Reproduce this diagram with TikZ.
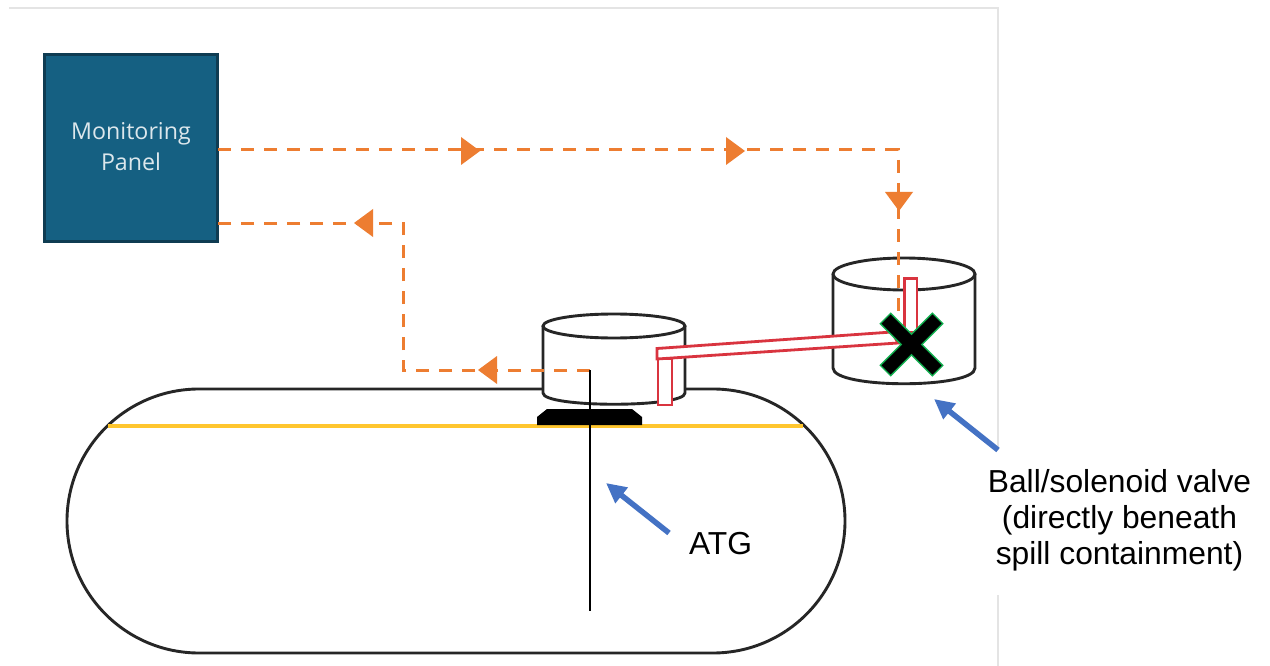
\documentclass[tikz,border=0pt]{standalone}
\usepackage{fontspec}
\setmainfont{Liberation Sans}
\newfontfamily\panelfont{Open Sans}
\usetikzlibrary{arrows.meta}
\definecolor{flowcol}{HTML}{ED7D31}
\definecolor{panelcol}{HTML}{156082}
\definecolor{paneledge}{HTML}{0F3C52}
\definecolor{pipecol}{HTML}{D9343F}
\definecolor{fuelcol}{HTML}{FFC62E}
\definecolor{notecol}{HTML}{4472C4}
\definecolor{framecol}{HTML}{E4E4E4}
\definecolor{glowcol}{HTML}{12B050}
\tikzset{
  frameline/.style={draw=framecol,line width=1.5pt},
  tankline/.style={draw=black!85,line width=2.9pt},
  flowline/.style={draw=flowcol,line width=3pt,dash pattern=on 13pt off 10pt},
  pipebox/.style={draw=pipecol,line width=2.8pt,fill=white,line join=miter},
  notearrow/.style={draw=notecol,line width=5.5pt,-{Triangle[length=20pt,width=19pt]}},
  notetext/.style={font=\fontsize{31.8pt}{36pt}\selectfont,align=center,text=black,inner sep=0pt},
  flowtip/.style={fill=flowcol,draw=none}
}
\newcommand{\tipat}[2]{\fill[flowtip,shift={(#1)},rotate=#2] (-9pt,-14pt)--(10pt,0pt)--(-9pt,14pt)--cycle;}
\begin{document}
\begin{tikzpicture}[x=1pt,y=-1pt]
\useasboundingbox (0,0) rectangle (1270,666);
\fill[white] (0,0) rectangle (1270,666);
% page frame
\draw[frameline] (9,8) -- (998,8) -- (998,450);
\draw[frameline] (998,595) -- (998,666);
% tank
\draw[tankline,rounded corners=132pt] (67,389) rectangle (845,653);
\draw[fuelcol,line width=3.4pt] (108,426) -- (803,426);
\fill[black] (537,425) -- (537,417) -- (547,409) -- (632,409) -- (642,417) -- (642,425) -- cycle;
% panel
\node[draw=paneledge,line width=2.6pt,fill=panelcol,minimum width=173pt,minimum height=187pt,inner sep=0pt,anchor=north west] (panel) at (43,53) {};
\node[text=white!85!panelcol,font=\panelfont\fontsize{23.2pt}{31pt}\selectfont,align=center,inner sep=0pt] (paneltext) at (131,147) {Monitoring\\Panel};
% cylinders
\coordinate (atgdrop) at (590,370);
\coordinate (valvedrop) at (898,322);
\coordinate (outcorner) at (898,150);
\coordinate (incornerA) at (403,223);
\coordinate (incornerB) at (403,370);
\coordinate (panelout) at (218,150);
\coordinate (panelin) at (218,223);
\draw[tankline,fill=white] (543,326) -- (543,393) .. controls (543,408) and (685,408) .. (685,393) -- (685,326);
\draw[tankline,fill=white] (614,326) ellipse [x radius=71pt,y radius=12pt];
\draw[tankline,fill=white] (833,274) -- (833,368) .. controls (833,389) and (975,389) .. (975,368) -- (975,274);
\draw[tankline,fill=white] (904,274) ellipse [x radius=71pt,y radius=16pt];
% flow lines
\draw[flowline] (panelout) -- (outcorner) -- (valvedrop);
\draw[flowline] (atgdrop) -- (incornerB) -- (incornerA) -- (panelin);
\tipat{470,151}{0}
\tipat{735,151}{0}
\tipat{899,201}{-90}
\tipat{364,223}{180}
\tipat{488,370}{180}
% ATG probe
\draw[black,line width=2.6pt] (atgdrop) -- (590,611);
% pipework
\draw[pipebox] (658,359) rectangle (672,405);
\draw[pipebox] (904.5,278.5) rectangle (917,332);
\draw[pipebox] (657,348.5) -- (892,332) -- (898,343) -- (657,359) -- cycle;
% valve X
\draw[glowcol,line width=16pt] (885,318) -- (938,371);
\draw[glowcol,line width=16pt] (938,318) -- (885,371);
\draw[black,line width=13pt] (886,319) -- (937,370);
\draw[black,line width=13pt] (937,319) -- (886,370);
% notes
\node[notetext] (atglabel) at (720.5,544) {ATG};
\node[notetext] (valvelabel) at (1119.5,520.5) {Ball/solenoid valve\\(directly beneath\\spill containment)};
\coordinate (atgtail) at (669,533);
\coordinate (atghead) at (606,483);
\coordinate (valvetail) at (998,450);
\coordinate (valvehead) at (934,399);
\draw[notearrow] (atgtail) -- (atghead);
\draw[notearrow] (valvetail) -- (valvehead);
\end{tikzpicture}
\end{document}
